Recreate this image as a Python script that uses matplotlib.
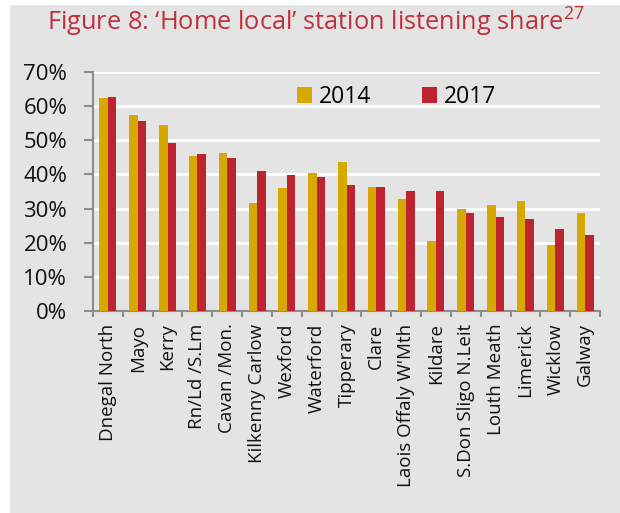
import matplotlib
matplotlib.use("Agg")
import matplotlib.pyplot as plt
from matplotlib.patches import Rectangle
from matplotlib.ticker import FixedLocator, PercentFormatter
import numpy as np

plt.rcParams['font.family'] = ['Open Sans', 'DejaVu Sans']
plt.rcParams['mathtext.fontset'] = 'custom'
plt.rcParams['mathtext.rm'] = 'Open Sans'

BG = '#e4e4e4'
GOLD = '#d6a800'
RED = '#be2430'
TITLE_C = '#c0303a'
SPINE = '#8c8c8c'

stations = ['Dnegal North', 'Mayo', 'Kerry', 'Rn/Ld /S.Lm', 'Cavan /Mon.',
            'Kilkenny Carlow', 'Wexford', 'Waterford', 'Tipperary', 'Clare',
            "Laois Offaly W'Mth", 'Kildare', 'S.Don Sligo N.Leit', 'Louth Meath',
            'Limerick', 'Wicklow', 'Galway']
share_2014 = [62.3, 57.5, 54.6, 45.3, 46.4, 31.7, 36.1, 40.4, 43.5, 36.4,
              32.8, 20.6, 29.8, 31.0, 32.1, 19.4, 28.8]
share_2017 = [62.8, 55.6, 49.3, 46.1, 44.8, 40.9, 39.7, 39.2, 37.0, 36.4,
              35.1, 35.1, 28.7, 27.5, 26.9, 23.9, 22.2]

fig = plt.figure(figsize=(6.2, 5.13), dpi=100)
fig.patch.set_facecolor(BG)
# white margins at left and top
fig.add_artist(Rectangle((0, 0), 10/620, 1, transform=fig.transFigure,
                         facecolor='white', edgecolor='none', zorder=-1))
fig.add_artist(Rectangle((0, 1 - 5/513), 1, 5/513, transform=fig.transFigure,
                         facecolor='white', edgecolor='none', zorder=-1))

ax = fig.add_axes([93/620, 1 - 311/513, 507/620, 239/513])
ax.set_facecolor(BG)

x = np.arange(len(stations))
w = 0.285
ax.bar(x - w/2, share_2014, width=w, color=GOLD, label='2014', zorder=3)
ax.bar(x + w/2, share_2017, width=w, color=RED, label='2017', zorder=3)

ax.set_ylim(0, 70)
ax.set_xlim(-0.5, len(stations) - 0.5)
ax.set_yticks(np.arange(0, 71, 10))
ax.yaxis.set_major_formatter(PercentFormatter(decimals=0))
ax.grid(axis='y', color='white', lw=2, zorder=1)

ax.xaxis.set_major_locator(FixedLocator(np.arange(-0.5, len(stations), 1)))
ax.xaxis.set_major_formatter(plt.NullFormatter())
ax.set_xticks(x, minor=True)
ax.set_xticklabels(stations, minor=True, rotation=90, fontsize=13.5, color='#111111')
ax.tick_params(axis='x', which='minor', length=0, pad=9)
ax.tick_params(axis='x', which='major', length=4, width=1.5, color=SPINE, direction='out')
ax.tick_params(axis='y', length=6.5, width=1.5, color=SPINE, labelsize=16, pad=12,
               labelcolor='#111111')

for s in ['top', 'right']:
    ax.spines[s].set_visible(False)
for s in ['left', 'bottom']:
    ax.spines[s].set_color(SPINE)
    ax.spines[s].set_linewidth(1.5)

ax.legend(loc='center', bbox_to_anchor=(0.599, 0.895), ncol=2, frameon=False,
          fontsize=16.5, handlelength=0.65, handleheight=0.65, handletextpad=0.3,
          columnspacing=2.2, borderpad=0)

fig.text(316/620, 1 - 22/513, "Figure 8: \u2018Home local\u2019 station listening share$^{27}$",
         ha='center', va='center', fontsize=18.3, color=TITLE_C)

fig.savefig('out.png', dpi=100, facecolor=BG)
